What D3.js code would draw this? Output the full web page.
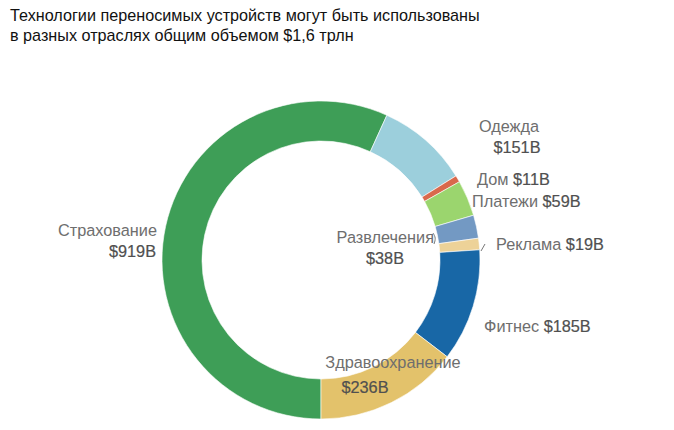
<!DOCTYPE html>
<html><head><meta charset="utf-8">
<script src="https://cdn.jsdelivr.net/npm/d3@7"></script>
<style>
body{margin:0;background:#fff;}
svg{display:block;font-family:"Liberation Sans",Arial,Helvetica,sans-serif;}
</style></head>
<body>
<svg id="chart" width="674" height="430"></svg>
<script>
const categories = ["Страхование","Одежда","Дом","Платежи","Развлечения","Реклама","Фитнес","Здравоохранение"];
const values = [919,151,11,59,38,19,185,236];
const valueLabels = ["$919B","$151B","$11B","$59B","$38B","$19B","$185B","$236B"];
const colors = ["#3e9e57","#9ccfdc","#d9694c","#9bd56e","#7399c3","#edd298","#1867a6","#e3c26b"];
const titleLines = ["Технологии переносимых устройств могут быть использованы","в разных отраслях общим объемом $1,6 трлн"];

// label layout (positions only)
const layout = {
  "Страхование":    {mode:"stack", x:157, y:236, anchor:"end", vx:156},
  "Одежда":         {mode:"stack", x:509, y:132, anchor:"middle", vx:517},
  "Дом":            {mode:"inline", x:477, y:185},
  "Платежи":        {mode:"inline", x:472, y:207},
  "Развлечения":    {mode:"stack", x:434, y:243, anchor:"end", vx:385, vanchor:"middle", tick:[[433,233],[436,238],[434,244]]},
  "Реклама":        {mode:"inline", x:496, y:250, tick:[[481,251],[485,244]]},
  "Фитнес":         {mode:"inline", x:484, y:332},
  "Здравоохранение":{mode:"stack", x:393, y:368, anchor:"middle", vx:365, vanchor:"middle", vdy:25}
};

const svg = d3.select("#chart");
const cx = 321, cy = 260, rOuter = 159, rInner = 119;

svg.append("g").selectAll("text").data(titleLines).join("text")
  .attr("x", 10).attr("y", (d,i)=>21 + i*20)
  .attr("font-size", 16.2).attr("fill", "#111").text(d=>d);

const pie = d3.pie().sort(null).value(d=>d.v).startAngle(Math.PI).endAngle(3*Math.PI);
const data = categories.map((c,i)=>({c, v:values[i], lab:valueLabels[i], col:colors[i]}));
const arcs = pie(data);
const arc = d3.arc().innerRadius(rInner).outerRadius(rOuter);

const g = svg.append("g").attr("transform", `translate(${cx},${cy})`);
g.selectAll("path").data(arcs).join("path")
  .attr("d", arc).attr("fill", d=>d.data.col)
  .attr("stroke","#fff").attr("stroke-width",0.6);

const labelColor = "#6e6e6e", valueColor = "#505050";
const fs = 16.3;
const lg = svg.append("g").attr("font-size", fs);
data.forEach(d=>{
  const L = layout[d.c];
  if (L.mode === "inline") {
    const t = lg.append("text").attr("x", L.x).attr("y", L.y);
    t.append("tspan").attr("fill", labelColor).text(d.c + " ");
    t.append("tspan").attr("fill", valueColor).attr("stroke", valueColor).attr("stroke-width", 0.2).text(d.lab);
  } else {
    lg.append("text").attr("x", L.x).attr("y", L.y).attr("text-anchor", L.anchor)
      .attr("fill", labelColor).text(d.c);
    lg.append("text").attr("x", L.vx).attr("y", L.y + (L.vdy||21))
      .attr("text-anchor", L.vanchor || L.anchor)
      .attr("fill", valueColor).attr("stroke", valueColor).attr("stroke-width", 0.2).text(d.lab);
  }
  if (L.tick) {
    svg.append("path").attr("d", d3.line().curve(d3.curveBasis)(L.tick))
      .attr("fill","none").attr("stroke","#777").attr("stroke-width",1);
  }
});
</script>
</body></html>
